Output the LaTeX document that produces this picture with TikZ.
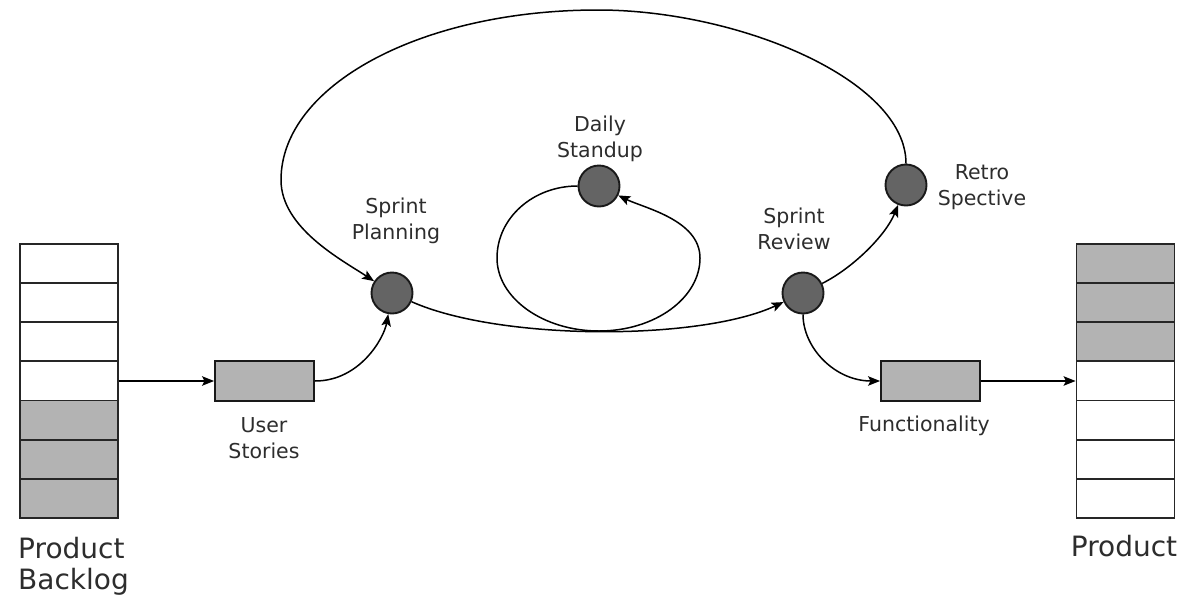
\documentclass[tikz,border=0pt]{standalone}
\usepackage{fontspec}
\setmainfont{DejaVu Sans}
\usetikzlibrary{arrows.meta}
\definecolor{circfill}{RGB}{100,100,100}
\definecolor{boxfill}{RGB}{179,179,179}
\definecolor{txt}{RGB}{45,45,45}
\newcommand\lblc[1]{\begin{tabular}[t]{@{}c@{}}#1\end{tabular}}
\newcommand\lbll[1]{\begin{tabular}[t]{@{}l@{}}#1\end{tabular}}
\begin{document}
\begin{tikzpicture}[x=1pt,y=-1pt,
 cellw/.style={draw=black!85, line width=1.9pt, fill=white, minimum width=98pt, minimum height=39.14pt, inner sep=0pt},
 cellg/.style={cellw, fill=boxfill},
 event/.style={circle, draw=black!90, line width=1.9pt, fill=circfill, minimum size=41pt, inner sep=0pt},
 item/.style={rectangle, draw=black!90, line width=1.9pt, fill=boxfill, minimum width=99pt, minimum height=40pt, inner sep=0pt},
 lab/.style={text=txt, font=\fontsize{20.5}{26}\selectfont, inner sep=0pt, anchor=base},
 biglab/.style={text=txt, font=\fontsize{28}{31}\selectfont, inner sep=0pt},
 arr/.style={draw=black, line width=1.5pt, -{Stealth[length=12pt,width=9.5pt,inset=2.5pt]}}]
\path[use as bounding box, fill=white] (0,0) rectangle (1188,603);

% Product backlog stack
\node[cellw] (bl1) at (69,263.6) {};
\node[cellw] (bl2) at (69,302.7) {};
\node[cellw] (bl3) at (69,341.8) {};
\node[cellw] (bl4) at (69,381.0) {};
\node[cellg] (bl5) at (69,420.1) {};
\node[cellg] (bl6) at (69,459.3) {};
\node[cellg] (bl7) at (69,498.4) {};

% Product stack
\node[cellg] (pr1) at (1125.5,263.6) {};
\node[cellg] (pr2) at (1125.5,302.7) {};
\node[cellg] (pr3) at (1125.5,341.8) {};
\node[cellw] (pr4) at (1125.5,381.0) {};
\node[cellw] (pr5) at (1125.5,420.1) {};
\node[cellw] (pr6) at (1125.5,459.3) {};
\node[cellw] (pr7) at (1125.5,498.4) {};

% items
\node[item] (us) at (264.5,381) {};
\node[item] (func) at (930.5,381) {};

% events
\node[event] (plan) at (392,293) {};
\node[event] (standup) at (599,186) {};
\node[event] (review) at (803,293) {};
\node[event] (retro) at (906,185) {};

\coordinate (ltop) at (598,10);
\coordinate (lleft) at (281,180);
\coordinate (dleft) at (497,258);
\coordinate (dbot) at (599,331);
\coordinate (dright) at (700,258);

% connectors
\draw[arr] (bl4.east) -- (us.west);
\draw[arr] (func.east) -- (pr4.west);
\draw[arr] (us.east) .. controls +(45,0) and +(-8,45) .. (plan);
\draw[arr] (plan) .. controls +(108,48) and +(-103,48) .. (review);
\draw[arr] (review) .. controls +(50,-25) and +(-20,50) .. (retro);
\draw[arr] (review) .. controls +(0,55) and +(-45,0) .. (func.west);
\draw[arr] (retro.north) .. controls +(0,-84) and +(140,0) .. (ltop)
  .. controls +(-178,0) and +(0,-94) .. (lleft)
  .. controls +(0,48) and +(-50,-33) .. (plan);
\draw[arr] (standup) .. controls +(-66,0) and +(0,-40) .. (dleft)
  .. controls +(0,40) and +(-56,0) .. (dbot)
  .. controls +(56,0) and +(0,40) .. (dright)
  .. controls +(0,-38) and +(45,22) .. (standup);

% labels
\node[lab] (lus) at (264,432) {\lblc{User\\Stories}};
\node[lab] (lplan) at (396,213) {\lblc{Sprint\\Planning}};
\node[lab] (lds) at (600,131) {\lblc{Daily\\Standup}};
\node[lab] (lrev) at (794,223) {\lblc{Sprint\\Review}};
\node[lab] (lret) at (982,179) {\lblc{Retro\\Spective}};
\node[lab] (lfun) at (924,431) {Functionality};
\node[biglab, anchor=base west] (lpb) at (18,558) {\lbll{Product\\Backlog}};
\node[biglab, anchor=base] (lpr) at (1124,556) {Product};
\end{tikzpicture}
\end{document}
